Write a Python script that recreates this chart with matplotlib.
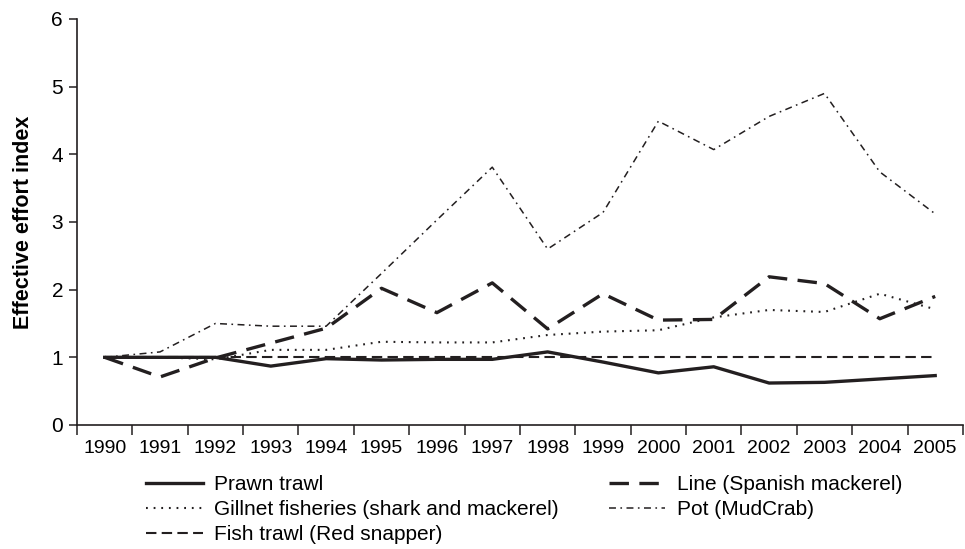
import matplotlib.pyplot as plt

plt.rcParams['font.family'] = ['Liberation Sans', 'DejaVu Sans']
plt.rcParams['lines.scale_dashes'] = False

years = [str(y) for y in range(1990, 2006)]

prawn_trawl = [1.00, 1.00, 1.00, 0.87, 0.98, 0.96, 0.97, 0.97,
               1.08, 0.93, 0.77, 0.86, 0.62, 0.63, 0.68, 0.73]
line_mackerel = [1.00, 0.71, 0.99, 1.21, 1.43, 2.02, 1.66, 2.10,
                 1.42, 1.94, 1.55, 1.56, 2.19, 2.09, 1.57, 1.90]
gillnet = [1.00, 1.00, 0.97, 1.11, 1.11, 1.23, 1.22, 1.22,
           1.33, 1.38, 1.40, 1.59, 1.70, 1.67, 1.94, 1.71]
pot_mudcrab = [1.00, 1.08, 1.50, 1.46, 1.46, 2.24, 3.03, 3.81,
               2.60, 3.14, 4.49, 4.07, 4.56, 4.90, 3.74, 3.12]
fish_trawl = [1.00] * 16

ink = '#231f20'

fig = plt.figure(figsize=(9.65, 5.49), dpi=100)
ax = fig.add_axes([0.0798, 0.2259, 0.918, 0.7395])

x = list(range(len(years)))
h_prawn, = ax.plot(x, prawn_trawl, color=ink, lw=2.4, label='Prawn trawl')
h_gill, = ax.plot(x, gillnet, color=ink, lw=1.5, dashes=(1.3, 4.2),
                  label='Gillnet fisheries (shark and mackerel)')
h_fish, = ax.plot(x, fish_trawl, color=ink, lw=1.5, dashes=(7.5, 3.8),
                  label='Fish trawl (Red snapper)')
h_line, = ax.plot(x, line_mackerel, color=ink, lw=2.4, dashes=(14, 7.5),
                  label='Line (Spanish mackerel)')
h_pot, = ax.plot(x, pot_mudcrab, color=ink, lw=1.1, dashes=(5, 3.2, 1.2, 3.2),
                 label='Pot (MudCrab)')

# category axis: year labels sit between the boundary ticks
ax.set_xlim(-0.5, len(years) - 0.5)
ax.set_ylim(0, 6)
ax.set_yticks(range(0, 7))
ax.set_xticks([i - 0.5 for i in range(len(years) + 1)])
ax.set_xticklabels([])
ax.set_xticks(x, minor=True)
ax.set_xticklabels(years, minor=True)
ax.tick_params(axis='x', which='minor', length=0, pad=11, labelsize=14)
ax.tick_params(axis='x', which='major', length=7, width=1.1, color=ink)
ax.tick_params(axis='y', length=6, width=1.1, color=ink, labelsize=15, pad=4)

for side in ('top', 'right'):
    ax.spines[side].set_visible(False)
for side in ('left', 'bottom'):
    ax.spines[side].set_color(ink)
    ax.spines[side].set_linewidth(1.2)

ax.set_ylabel('Effective effort index', fontsize=15.5, fontweight='bold', labelpad=12.5)

fig.legend(handles=[h_prawn, h_gill, h_fish, h_line, h_pot], ncol=2,
           loc='upper left', bbox_to_anchor=(0.141, 0.154), frameon=False,
           fontsize=15, handlelength=2.7, handletextpad=0.55,
           columnspacing=2.4, labelspacing=0.3, borderpad=0)

fig.savefig('out.png', dpi=100)
